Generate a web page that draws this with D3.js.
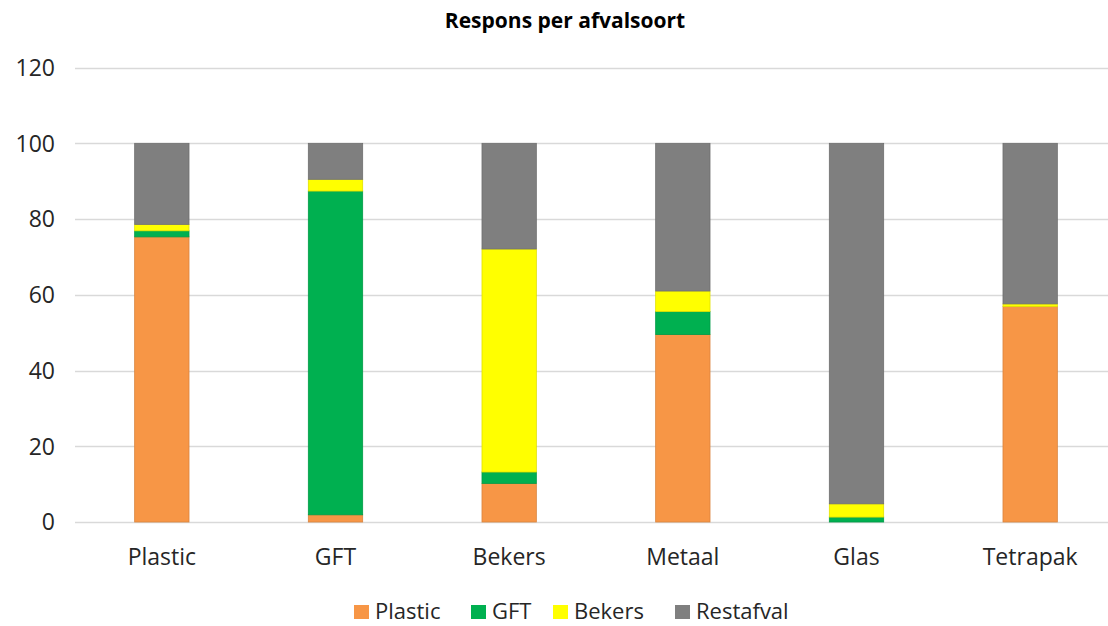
<!DOCTYPE html>
<html><head><meta charset="utf-8">
<script src="https://cdn.jsdelivr.net/npm/d3@7"></script>
<style>
html,body{margin:0;padding:0;background:#fff;}
svg{display:block;}
text{font-family:"Open Sans",sans-serif;fill:#262626;}
</style></head>
<body>
<svg id="chart" width="1108" height="626"></svg>
<script>
const categories = ["Plastic","GFT","Bekers","Metaal","Glas","Tetrapak"];
const seriesNames = ["Plastic","GFT","Bekers","Restafval"];
const plasticValues   = [75.3, 1.9, 10.2, 49.5, 0.0, 56.9];
const gftValues       = [1.6, 85.5, 3.0, 6.1, 1.3, 0.0];
const bekersValues    = [1.7, 3.1, 58.9, 5.4, 3.5, 0.7];
const restafvalValues = [21.4, 9.5, 27.9, 39.0, 95.2, 42.4];
const yTicks = [0,20,40,60,80,100,120];
const colors = ["#F79646","#00B050","#FFFF00","#7F7F7F"];
const title = "Respons per afvalsoort";

const svg = d3.select("#chart");
const mLeft = 75, mRight = 1117, mTop = 67.6, mBottom = 522;

const x = d3.scaleBand().domain(categories).range([mLeft, mRight]).paddingInner(0.687).paddingOuter(0.3435);
const y = d3.scaleLinear().domain([0,120]).range([mBottom, mTop]);

const rows = categories.map((c,i)=>({cat:c, Plastic:plasticValues[i], GFT:gftValues[i], Bekers:bekersValues[i], Restafval:restafvalValues[i]}));
const stack = d3.stack().keys(seriesNames)(rows);

// gridlines
svg.append("g").selectAll("line").data(yTicks).join("line")
  .attr("x1", mLeft).attr("x2", mRight)
  .attr("y1", d=>Math.round(y(d))+0.5).attr("y2", d=>Math.round(y(d))+0.5)
  .attr("stroke", "#d9d9d9").attr("stroke-width", 1.5);

// y tick labels
svg.append("g").selectAll("text").data(yTicks).join("text")
  .attr("x", 55).attr("y", d=>y(d)).attr("dy","0.36em")
  .attr("text-anchor","end").style("font-size","23px").text(d=>d);

// bars
svg.append("g").selectAll("g").data(stack).join("g")
  .attr("fill",(d,i)=>colors[i])
  .attr("stroke",(d,i)=>d3.color(colors[i]).darker(0.35))
  .selectAll("rect").data(d=>d.filter(s=>s[1]-s[0]>0)).join("rect")
  .attr("x", d=>x(d.data.cat)).attr("width", x.bandwidth())
  .attr("y", d=>y(d[1])).attr("height", d=>y(d[0])-y(d[1]))
  .attr("stroke-width",0.8);

// category labels
svg.append("g").selectAll("text").data(categories).join("text")
  .attr("x", d=>x(d)+x.bandwidth()/2).attr("y", 565)
  .attr("text-anchor","middle").style("font-size","23px").text(d=>d);

// title
svg.append("text").attr("x", 565).attr("y", 28).attr("text-anchor","middle")
  .style("font-size","21px").style("font-weight","bold").style("fill","#000").text(title);

// legend
const legendX = [354, 471, 553, 675];
const lg = svg.append("g").selectAll("g").data(seriesNames).join("g")
  .attr("transform",(d,i)=>`translate(${legendX[i]},605)`);
lg.append("rect").attr("width",15).attr("height",14).attr("fill",(d,i)=>colors[i]);
lg.append("text").attr("x",21).attr("y",14).style("font-size","22px").text(d=>d);
</script>
</body></html>
